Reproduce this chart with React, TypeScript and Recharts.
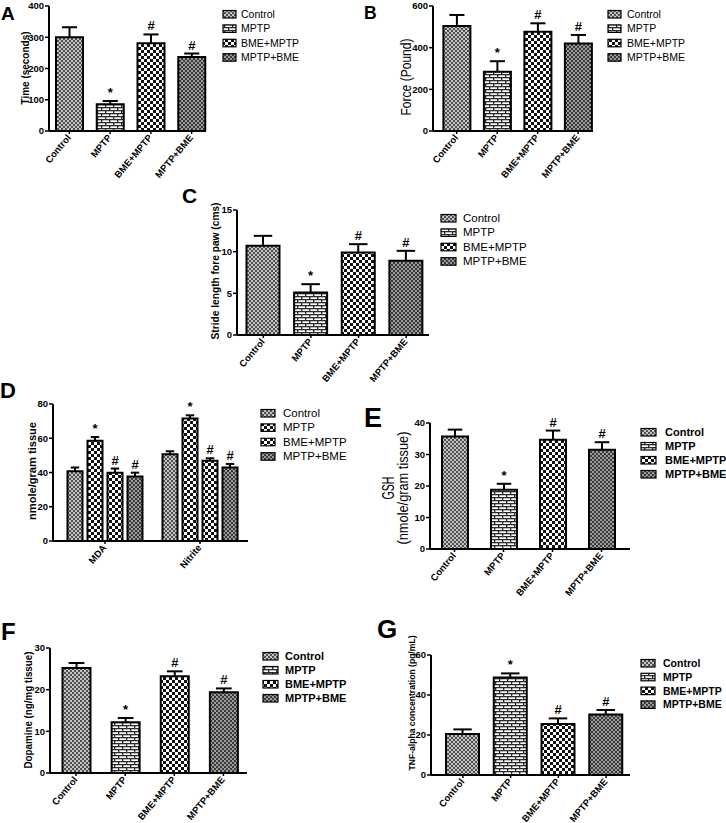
import React from 'react';
import { BarChart, Bar, XAxis, YAxis, Cell, LabelList } from 'recharts';

const FONT = '"Liberation Sans", Arial, Helvetica, sans-serif';

// ---------- data ----------
const groups = ['Control', 'MPTP', 'BME+MPTP', 'MPTP+BME'];
const groupSig = ['', '*', '#', '#'];
const groupPatterns = ['pCtrl', 'pBrick', 'pCheck', 'pDense'];

const timeMean = [300, 86, 281, 237];
const timeErr = [32, 10, 28, 11];
const timeTicks = [0, 100, 200, 300, 400];

const forceMean = [504, 284, 477, 420];
const forceErr = [53, 51, 40, 41];
const forceTicks = [0, 200, 400, 600];

const strideMean = [10.7, 5.1, 9.9, 8.9];
const strideErr = [1.2, 1.0, 1.0, 1.2];
const strideTicks = [0, 5, 10, 15];

const oxCats = ['MDA', 'Nitrite'];
const oxControl = [40.7, 50.7];
const oxControlErr = [2.2, 1.7];
const oxMptp = [58.5, 71.6];
const oxMptpErr = [2.2, 1.8];
const oxBme = [39.9, 46.8];
const oxBmeErr = [2.4, 1.5];
const oxMb = [37.6, 42.9];
const oxMbErr = [2.3, 2.1];
const oxTicks = [0, 20, 40, 60, 80];
const oxPatterns = ['pCtrl', 'pCheck', 'pCheck', 'pDense'];

const gshMean = [35.7, 18.8, 34.7, 31.5];
const gshErr = [2.2, 1.9, 2.9, 2.4];
const gshTicks = [0, 10, 20, 30, 40];

const dopMean = [25.2, 12.2, 23.2, 19.4];
const dopErr = [1.2, 1.0, 1.2, 0.9];
const dopTicks = [0, 10, 20, 30];

const tnfMean = [20.5, 48.8, 25.5, 30.3];
const tnfErr = [2.3, 2.0, 2.8, 2.2];
const tnfTicks = [0, 20, 40, 60];

// ---------- helpers ----------
const single = (mean: number[], err: number[]) =>
  groups.map((g, i) => ({ name: g, v0: mean[i], e0: err[i], s0: groupSig[i] }));

const oxSeries = [
  [oxControl, oxControlErr],
  [oxMptp, oxMptpErr],
  [oxBme, oxBmeErr],
  [oxMb, oxMbErr],
];
const oxData = oxCats.map((c, i) => {
  const row: any = { name: c };
  oxSeries.forEach(([m, e], k) => {
    row['v' + k] = m[i];
    row['e' + k] = e[i];
    row['s' + k] = groupSig[k];
  });
  return row;
});

const RotTick = (props: any) => {
  const { x, y, payload } = props;
  return (
    <g transform={`translate(${x + 2},${y + 4})`}>
      <text
        textAnchor="end"
        transform="rotate(-50)"
        fontSize={9.5}
        fontWeight="bold"
        fontFamily={FONT}
        fill="#000"
      >
        {payload.value}
      </text>
    </g>
  );
};

const makeErrShape = (barSize: number) => (props: any) => {
  const { x, y, width, height } = props;
  if (x == null || y == null || height == null) return <g />;
  const cx = x + width / 2;
  const hw = barSize * 0.28;
  return (
    <g>
      <line x1={cx} x2={cx} y1={y + height} y2={y} stroke="#000" strokeWidth={2} />
      <line x1={cx - hw} x2={cx + hw} y1={y} y2={y} stroke="#000" strokeWidth={2} />
    </g>
  );
};

type PanelProps = {
  data: any[];
  nSeries: number;
  seriesPatterns?: string[];
  cellPatterns?: string[];
  plotLeft: number;
  plotTop: number;
  plotW: number;
  plotH: number;
  yMax: number;
  yTicks: number[];
  barSize: number;
  barGap?: number;
  padL: number;
  padR: number;
};

function Panel(p: PanelProps) {
  const yW = 40;
  const mTop = 22;
  const xH = 70;
  const mRight = 12;
  const errShape = makeErrShape(p.barSize);
  const kids: any[] = [];
  for (let k = 0; k < p.nSeries; k++) {
    kids.push(
      <Bar
        key={'b' + k}
        dataKey={'v' + k}
        stackId={'st' + k}
        fill={p.seriesPatterns ? `url(#${p.seriesPatterns[k]})` : '#888'}
        stroke="#000"
        strokeWidth={2}
        isAnimationActive={false}
      >
        {p.cellPatterns
          ? p.data.map((_, i) => <Cell key={i} fill={`url(#${p.cellPatterns![i]})`} />)
          : null}
      </Bar>
    );
    kids.push(
      <Bar
        key={'e' + k}
        dataKey={'e' + k}
        stackId={'st' + k}
        fill="none"
        shape={errShape}
        isAnimationActive={false}
      >
        <LabelList
          dataKey={'s' + k}
          position="top"
          offset={4}
          fill="#000"
          fontSize={13}
          fontWeight="bold"
          fontFamily={FONT}
        />
      </Bar>
    );
  }
  return (
    <div style={{ position: 'absolute', left: p.plotLeft - yW, top: p.plotTop - mTop }}>
      <BarChart
        width={yW + p.plotW + mRight}
        height={mTop + p.plotH + xH}
        data={p.data}
        margin={{ top: mTop, right: mRight, left: 0, bottom: 0 }}
        barSize={p.barSize}
        barGap={p.barGap ?? 4}
      >
        <XAxis
          dataKey="name"
          height={xH}
          interval={0}
          axisLine={{ stroke: '#000', strokeWidth: 2 }}
          tickLine={{ stroke: '#000', strokeWidth: 1.5 }}
          tickSize={3}
          tickMargin={0}
          tick={RotTick}
          padding={{ left: p.padL, right: p.padR }}
        />
        <YAxis
          width={yW}
          type="number"
          domain={[0, p.yMax]}
          ticks={p.yTicks}
          interval={0}
          allowDataOverflow
          axisLine={{ stroke: '#000', strokeWidth: 2 }}
          tickLine={{ stroke: '#000', strokeWidth: 1.5 }}
          tickSize={4}
          tickMargin={1}
          tick={{ fontSize: 9.5, fontWeight: 'bold', fill: '#000', fontFamily: FONT }}
        />
        {kids}
      </BarChart>
    </div>
  );
}

// ---------- overlay text ----------
const Legend = ({ x, y0, step, sw, tx, fs, bold, patterns }: any) => (
  <g>
    {groups.map((g, i) => (
      <g key={g}>
        <rect
          x={x}
          y={y0 + i * step - 3.5}
          width={sw}
          height={7.5}
          fill={`url(#${patterns[i]})`}
          stroke="#000"
          strokeWidth={1.2}
        />
        <text
          x={tx}
          y={y0 + i * step}
          dominantBaseline="central"
          fontSize={fs}
          fontWeight={bold ? 'bold' : 'normal'}
          fontFamily={FONT}
          fill="#000"
        >
          {g}
        </text>
      </g>
    ))}
  </g>
);

const YLabel = ({ cx, cy, text, fs, bold, len }: any) => (
  <text
    x={cx}
    y={cy}
    transform={`rotate(-90 ${cx} ${cy})`}
    textAnchor="middle"
    dominantBaseline="central"
    fontSize={fs}
    fontWeight={bold ? 'bold' : 'normal'}
    fontFamily={FONT}
    fill="#000"
    textLength={len}
    lengthAdjust="spacingAndGlyphs"
  >
    {text}
  </text>
);

const Letter = ({ x, y, fs, t }: any) => (
  <text x={x} y={y} fontSize={fs} fontWeight="bold" fontFamily={FONT} fill="#000">
    {t}
  </text>
);

export default function App() {
  return (
    <div
      style={{
        position: 'absolute',
        left: 0,
        top: 0,
        width: 726,
        height: 823,
        background: '#fff',
        overflow: 'hidden',
        fontFamily: FONT,
      }}
    >
      <svg width={0} height={0} style={{ position: 'absolute' }}>
        <defs>
          <pattern id="pCtrl" width="4" height="4" patternUnits="userSpaceOnUse">
            <rect width="4" height="4" fill="#c4c4c4" />
            <rect width="2" height="2" fill="#505050" />
            <rect x="2" y="2" width="2" height="2" fill="#505050" />
          </pattern>
          <pattern id="pBrick" width="8" height="6" patternUnits="userSpaceOnUse">
            <rect width="8" height="6" fill="#fff" />
            <rect width="8" height="1.3" fill="#2a2a2a" />
            <rect y="3" width="8" height="1.3" fill="#2a2a2a" />
            <rect x="0" y="0" width="1.3" height="3" fill="#2a2a2a" />
            <rect x="4" y="3" width="1.3" height="3" fill="#2a2a2a" />
          </pattern>
          <pattern id="pCheck" width="6" height="6" patternUnits="userSpaceOnUse">
            <rect width="6" height="6" fill="#fff" />
            <rect width="3" height="3" fill="#111" />
            <rect x="3" y="3" width="3" height="3" fill="#111" />
          </pattern>
          <pattern id="pDense" width="4" height="4" patternUnits="userSpaceOnUse">
            <rect width="4" height="4" fill="#3a3a3a" />
            <rect width="2" height="2" fill="#9a9a9a" />
            <rect x="2" y="2" width="2" height="2" fill="#9a9a9a" />
          </pattern>
        </defs>
      </svg>

      {/* A */}
      <Panel data={single(timeMean, timeErr)} nSeries={1} cellPatterns={groupPatterns}
        plotLeft={49} plotTop={6} plotW={157} plotH={125} yMax={400} yTicks={timeTicks}
        barSize={27} padL={0} padR={-6} />
      {/* B */}
      <Panel data={single(forceMean, forceErr)} nSeries={1} cellPatterns={groupPatterns}
        plotLeft={433} plotTop={6} plotW={160} plotH={125} yMax={600} yTicks={forceTicks}
        barSize={27} padL={3.4} padR={-5.4} />
      {/* C */}
      <Panel data={single(strideMean, strideErr)} nSeries={1} cellPatterns={groupPatterns}
        plotLeft={237} plotTop={210} plotW={192} plotH={125} yMax={15} yTicks={strideTicks}
        barSize={33} padL={2.5} padR={-1} />
      {/* D */}
      <Panel data={oxData} nSeries={4} seriesPatterns={oxPatterns}
        plotLeft={53} plotTop={404} plotW={195} plotH={137} yMax={80} yTicks={oxTicks}
        barSize={15} barGap={5} padL={4.5} padR={0.5} />
      {/* E */}
      <Panel data={single(gshMean, gshErr)} nSeries={1} cellPatterns={groupPatterns}
        plotLeft={430} plotTop={423} plotW={200} plotH={126} yMax={40} yTicks={gshTicks}
        barSize={26} padL={0} padR={4} />
      {/* F */}
      <Panel data={single(dopMean, dopErr)} nSeries={1} cellPatterns={groupPatterns}
        plotLeft={50} plotTop={648} plotW={197} plotH={125} yMax={30} yTicks={dopTicks}
        barSize={28} padL={1.5} padR={-1} />
      {/* G */}
      <Panel data={single(tnfMean, tnfErr)} nSeries={1} cellPatterns={groupPatterns}
        plotLeft={431} plotTop={655} plotW={199} plotH={120} yMax={60} yTicks={tnfTicks}
        barSize={33} padL={8} padR={0} />

      <svg
        width={726}
        height={823}
        style={{ position: 'absolute', left: 0, top: 0, pointerEvents: 'none' }}
      >
        <Letter x={1} y={20} fs={19} t="A" />
        <Letter x={364} y={19} fs={17.5} t="B" />
        <Letter x={182} y={203} fs={21} t="C" />
        <Letter x={0} y={398} fs={22} t="D" />
        <Letter x={364} y={427} fs={27} t="E" />
        <Letter x={1} y={640} fs={24} t="F" />
        <Letter x={377} y={638} fs={26} t="G" />

        <YLabel cx={25} cy={68} text="Time (seconds)" fs={10} bold len={73} />
        <YLabel cx={405} cy={77} text="Force (Pound)" fs={15} len={77} />
        <YLabel cx={215} cy={271} text="Stride length fore paw (cms)" fs={10} bold len={137} />
        <YLabel cx={32} cy={471} text="nmole/gram tissue" fs={10.5} bold len={98} />
        <YLabel cx={388} cy={488} text="GSH" fs={16} len={23} />
        <YLabel cx={402} cy={488} text="(nmole/gram tissue)" fs={15} len={113} />
        <YLabel cx={28} cy={710} text="Dopamine (ng/mg tissue)" fs={10} bold len={117} />
        <YLabel cx={411} cy={703} text="TNF-alpha concentration (pg/mL)" fs={9.5} bold len={135} />

        <Legend x={223} y0={14} step={14.4} sw={13} tx={241} fs={10.5} patterns={groupPatterns} />
        <Legend x={608} y0={14} step={14.4} sw={13} tx={627} fs={10.5} patterns={groupPatterns} />
        <Legend x={441} y0={218} step={14.4} sw={15} tx={463} fs={11.5} patterns={groupPatterns} />
        <Legend x={261} y0={413} step={14.4} sw={14} tx={283} fs={11.5} patterns={oxPatterns} />
        <Legend x={641} y0={432} step={14} sw={15} tx={665} fs={11} bold patterns={groupPatterns} />
        <Legend x={263} y0={656} step={14} sw={15} tx={285} fs={11} bold patterns={groupPatterns} />
        <Legend x={641} y0={663} step={13.8} sw={14} tx={663} fs={10.5} bold patterns={groupPatterns} />
      </svg>
    </div>
  );
}
